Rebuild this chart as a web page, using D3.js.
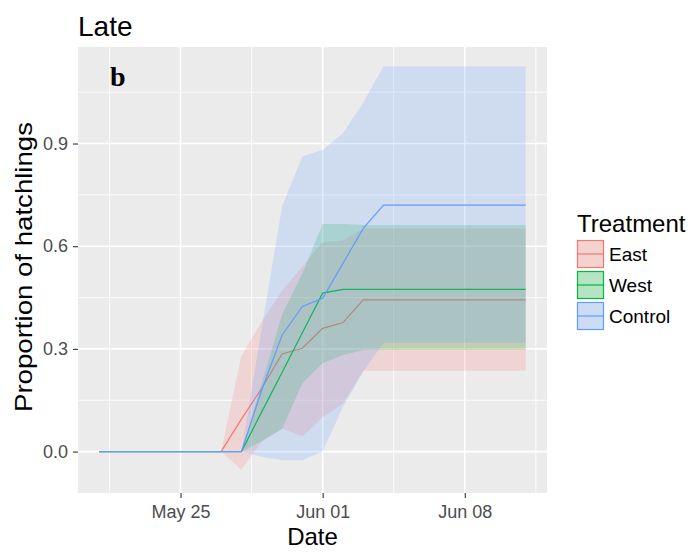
<!DOCTYPE html>
<html><head>
<meta charset="UTF-8">
<title>Late - Proportion of hatchlings</title>
<script src="https://cdn.jsdelivr.net/npm/d3@7"></script>
<style>
  body { margin: 0; background: #fff; }
  text { font-family: "Liberation Sans", Arial, sans-serif; }
</style>
</head>
<body>
<div id="chart"></div>
<script>
// daily dates, May 21 .. Jun 11
const dates = ["2016-05-21","2016-05-22","2016-05-23","2016-05-24","2016-05-25","2016-05-26","2016-05-27",
  "2016-05-28","2016-05-29","2016-05-30","2016-05-31","2016-06-01","2016-06-02","2016-06-03","2016-06-04",
  "2016-06-05","2016-06-06","2016-06-07","2016-06-08","2016-06-09","2016-06-10","2016-06-11"];

const eastMean = [0,0,0,0,0,0,0, 0.095,0.185,0.285,0.302,0.36,0.377, 0.443,0.443,0.443,0.443,0.443,0.443,0.443,0.443,0.443];
const eastLow  = [0,0,0,0,0,0,0, -0.053,0.03,0.068,0.044,0.10,0.14, 0.236,0.236,0.236,0.236,0.236,0.236,0.236,0.236,0.236];
const eastHigh = [0,0,0,0,0,0,0, 0.28,0.38,0.47,0.54,0.612,0.616, 0.652,0.652,0.652,0.652,0.652,0.652,0.652,0.652,0.652];

const westMean = [0,0,0,0,0,0,0,0, 0.116,0.231,0.347,0.463, 0.474,0.474,0.474,0.474,0.474,0.474,0.474,0.474,0.474,0.474];
const westLow  = [0,0,0,0,0,0,0,0, 0.03,0.065,0.2,0.258,0.282, 0.297,0.297,0.297,0.297,0.297,0.297,0.297,0.297,0.297];
const westHigh = [0,0,0,0,0,0,0,0, 0.2,0.40,0.52,0.665,0.665, 0.662,0.662,0.662,0.662,0.662,0.662,0.662,0.662,0.662];

const controlMean = [0,0,0,0,0,0,0,0, 0.18,0.34,0.424,0.448,0.55,0.652, 0.72,0.72,0.72,0.72,0.72,0.72,0.72,0.72];
const controlLow  = [0,0,0,0,0,0,0,0, -0.015,-0.025,-0.025,0.0,0.13,0.234, 0.318,0.318,0.318,0.318,0.318,0.318,0.318,0.318];
const controlHigh = [0,0,0,0,0,0,0,0, 0.36,0.715,0.862,0.881,0.93,1.02, 1.125,1.125,1.125,1.125,1.125,1.125,1.125,1.125];

const treatments = ["East", "West", "Control"];
const colors = ["#F8766D", "#00BA38", "#619CFF"];

const xTicks = ["2016-05-25", "2016-06-01", "2016-06-08"];
const yTicks = [0, 0.3, 0.6, 0.9];
const yMinor = [0.15, 0.45, 0.75, 1.05];

const parse = d3.timeParse("%Y-%m-%d");
const days = dates.map(parse);

const series = [
  {name: "East", mean: eastMean, low: eastLow, high: eastHigh},
  {name: "West", mean: westMean, low: westLow, high: westHigh},
  {name: "Control", mean: controlMean, low: controlLow, high: controlHigh}
];

const W = 692, H = 558;
const panel = {left: 78, right: 547, top: 47, bottom: 493};

const svg = d3.select("#chart").append("svg")
    .attr("width", W)
    .attr("height", H);

// x domain: data range expanded by 5% like ggplot
const ext = d3.extent(days);
const pad = (ext[1] - ext[0]) * 0.05;
const x = d3.scaleTime()
    .domain([new Date(+ext[0] - pad), new Date(+ext[1] + pad)])
    .range([panel.left, panel.right]);

const y = d3.scaleLinear()
    .domain([-0.121, 1.182])
    .range([panel.bottom, panel.top]);

// panel background
svg.append("rect")
    .attr("x", panel.left).attr("y", panel.top)
    .attr("width", panel.right - panel.left)
    .attr("height", panel.bottom - panel.top)
    .attr("fill", "#EBEBEB");

const grid = svg.append("g");
const xMajor = xTicks.map(parse);
const xMinor = xMajor.map(t => d3.timeHour.offset(t, -84)).concat([d3.timeHour.offset(xMajor[2], 84)]);

grid.selectAll(".ymin").data(yMinor).enter().append("line")
    .attr("x1", panel.left).attr("x2", panel.right)
    .attr("y1", d => y(d)).attr("y2", d => y(d))
    .attr("stroke", "#fff").attr("stroke-width", 0.8);
grid.selectAll(".xmin").data(xMinor).enter().append("line")
    .attr("y1", panel.top).attr("y2", panel.bottom)
    .attr("x1", d => x(d)).attr("x2", d => x(d))
    .attr("stroke", "#fff").attr("stroke-width", 0.8);
grid.selectAll(".ymaj").data(yTicks).enter().append("line")
    .attr("x1", panel.left).attr("x2", panel.right)
    .attr("y1", d => y(d)).attr("y2", d => y(d))
    .attr("stroke", "#fff").attr("stroke-width", 1.6);
grid.selectAll(".xmaj").data(xMajor).enter().append("line")
    .attr("y1", panel.top).attr("y2", panel.bottom)
    .attr("x1", d => x(d)).attr("x2", d => x(d))
    .attr("stroke", "#fff").attr("stroke-width", 1.6);

// ribbon + line per group, in factor order
const area = d3.area()
    .x((d, i) => x(days[i]))
    .y0(d => y(d[0]))
    .y1(d => y(d[1]));
const line = d3.line()
    .x((d, i) => x(days[i]))
    .y(d => y(d));

series.forEach((s, k) => {
  const band = s.low.map((v, i) => [v, s.high[i]]);
  svg.append("path")
      .attr("d", area(band))
      .attr("fill", colors[k])
      .attr("fill-opacity", 0.2);
  svg.append("path")
      .attr("d", line(s.mean))
      .attr("fill", "none")
      .attr("stroke", colors[k])
      .attr("stroke-width", 1.2);
});

// axes
const xAxis = d3.axisBottom(x).tickValues(xMajor).tickFormat(d3.timeFormat("%b %d")).tickSize(5).tickPadding(7);
const yAxis = d3.axisLeft(y).tickValues(yTicks).tickFormat(d3.format(".1f")).tickSize(5).tickPadding(5);

const gx = svg.append("g").attr("transform", `translate(0,${panel.bottom})`).call(xAxis);
const gy = svg.append("g").attr("transform", `translate(${panel.left},0)`).call(yAxis);
[gx, gy].forEach(g => {
  g.select(".domain").remove();
  g.selectAll(".tick line").attr("stroke", "#333").attr("stroke-width", 1.1);
  g.selectAll(".tick text").attr("fill", "#4D4D4D").style("font-size", "18px")
      .style("font-family", '"Liberation Sans", Arial, sans-serif');
});

// titles
svg.append("text").attr("x", 78).attr("y", 36)
    .style("font-size", "28px").attr("fill", "#000").text("Late");

svg.append("text").attr("x", 110).attr("y", 86)
    .style("font-family", '"Liberation Serif", "Times New Roman", serif')
    .style("font-weight", "bold").style("font-size", "28px").text("b");

svg.append("text")
    .attr("x", (panel.left + panel.right) / 2).attr("y", 545)
    .attr("text-anchor", "middle")
    .style("font-size", "24px").text("Date");

svg.append("text")
    .attr("transform", `translate(32,${(panel.top + panel.bottom) / 2 - 3}) rotate(-90)`)
    .attr("text-anchor", "middle")
    .attr("textLength", 290).attr("lengthAdjust", "spacingAndGlyphs")
    .style("font-size", "24px").text("Proportion of hatchlings");

// legend
const legend = svg.append("g").attr("transform", "translate(577,0)");
legend.append("text").attr("x", 0).attr("y", 232)
    .style("font-size", "24px").text("Treatment");

const keys = legend.selectAll(".key").data(treatments).enter().append("g")
    .attr("transform", (d, i) => `translate(0,${240 + i * 31})`);
keys.append("rect")
    .attr("x", 0.5).attr("y", 0.5).attr("width", 26).attr("height", 27)
    .attr("fill", "#F2F2F2");
keys.append("rect")
    .attr("x", 0.5).attr("y", 0.5).attr("width", 26).attr("height", 27)
    .attr("fill", (d, i) => colors[i]).attr("fill-opacity", 0.25)
    .attr("stroke", (d, i) => colors[i]).attr("stroke-width", 1.2);
keys.append("line")
    .attr("x1", 0.5).attr("x2", 26.5).attr("y1", 14).attr("y2", 14)
    .attr("stroke", (d, i) => colors[i]).attr("stroke-width", 1.2);
keys.append("text")
    .attr("x", 32).attr("y", 14).attr("dy", "0.36em")
    .style("font-size", "19px").text(d => d);
</script>
</body></html>
